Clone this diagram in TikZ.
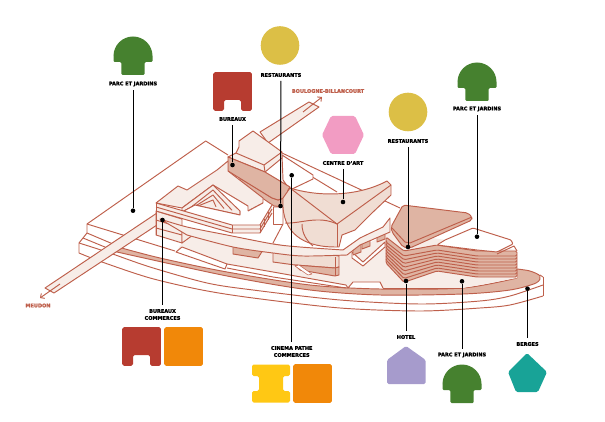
\documentclass[tikz,border=0pt]{standalone}
\usepackage{fontspec}
\setmainfont{DejaVu Sans}[BoldFeatures={FakeBold=2.2}]
\usetikzlibrary{arrows.meta}
\definecolor{brick}{HTML}{BE5F4B}
\definecolor{palefill}{HTML}{F7EDE8}
\definecolor{midfill}{HTML}{F0DDD3}
\definecolor{darkfill}{HTML}{DFB4A3}
\definecolor{leaf}{HTML}{46812F}
\definecolor{office}{HTML}{B73C30}
\definecolor{shop}{HTML}{F18809}
\definecolor{cinema}{HTML}{FFC814}
\definecolor{gold}{HTML}{DCBF46}
\definecolor{pinkart}{HTML}{F29CC3}
\definecolor{lilac}{HTML}{A69BCC}
\definecolor{teal}{HTML}{18A397}
\tikzset{
  edge/.style={draw=brick, line width=0.95pt, line join=round},
  pale/.style={edge, fill=palefill},
  mid/.style={edge, fill=midfill},
  dark/.style={edge, fill=darkfill},
  blank/.style={edge, fill=white},
  road/.style={draw=brick, line width=0.95pt, -{Straight Barb[length=3pt,width=6pt]}},
  leader/.style={draw=black, line width=1pt},
  dot/.style={circle, fill=black, inner sep=0pt, minimum size=4.6pt},
  tag/.style={font=\bfseries\fontsize{5}{7}\selectfont, align=center, inner sep=0pt, outer ysep=4pt},
  place/.style={tag, text=brick},
  parc/.pic={
    \fill[leaf] (-19.5,0) arc[start angle=180,end angle=360,radius=19.5] -- cycle;
    \fill[leaf, rounded corners=1.2] (-19.5,-1) -- (19.5,-1) -- (19.5,6) -- (11.7,6) -- (11.7,19) -- (-11.7,19) -- (-11.7,6) -- (-19.5,6) -- cycle;},
  bureau/.pic={\fill[office, rounded corners=1.6] (-19.3,-19.3) -- (19.3,-19.3) -- (19.3,19.3) -- (8.5,19.3) -- (8.5,8.5) -- (-8.5,8.5) -- (-8.5,19.3) -- (-19.3,19.3) -- cycle;},
  commerce/.pic={\fill[shop, rounded corners=1.6] (-19.3,-19.3) rectangle (19.3,19.3);},
  resto/.pic={\fill[gold] (0,0) circle[radius=19.3];}
}
\begin{document}
\begin{tikzpicture}[x=1pt,y=-1pt]
  \useasboundingbox (0,0) rectangle (605,422);
  % platform
  \draw[edge] plot[smooth] coordinates {(79,253) (102,262) (150,278) (202,290) (253,298) (340,308) (420,311) (480,308) (510,305) (543,296)};
  \draw[edge] plot[smooth] coordinates {(79,243) (107,252) (150,267) (207,283) (253,290) (340,300) (420,304) (480,301) (510,296) (543,285)};
  \draw[edge] (87,233) -- (83,238) -- (79,243) -- (79,253);
  \draw[edge] (543,277) -- (543,296);
  \draw[edge] (87,233) -- (87,224) -- (205.7,141) -- (228,155);
  \draw[edge] (87,224) -- (175,251);
  \draw[edge] (87,233) -- (120,247);
  \draw[edge] (83,238) -- (117,252);
  \draw[edge] (540,275) -- (543,277);
  % band and bank
  \draw[dark] plot[smooth] coordinates {(118,247) (160,258) (227,272) (310,285) (380,289) (463,288) (517,278)} -- plot[smooth] coordinates {(517,269) (530,271) (540,276) (536,283) (510,290) (463,294) (380,295) (310,290) (227,276) (117,252)} -- cycle;
  % floor
  \fill[palefill] (176,252) -- (187,235) -- (233,247) -- (273,253) -- (347,255) -- (390,232) -- (517,250) -- (517,278) -- (463,288) -- (383,288) -- (380,282) -- (353,282) -- (348,288) -- (346,285) -- (273,272) -- (227,264) -- cycle;
  \draw[edge] (227,264) -- (273,272) -- (346,285) -- (348,288) -- (353,282) -- (380,282) -- (383,288);
  \draw[edge] (227,268) -- (273,277) -- (346,288);
  \draw[edge] (383,288) -- (463,288);
  % back plate
  \draw[edge] (282,153) -- (400,208);
  \draw[edge] (283,159) -- (337,192);
  \draw[blank] (282,155) -- (313,175) -- (313,179) -- (290,190) -- (283,180) -- cycle;
  % road to the north
  \draw[pale] (260,132) -- (309,102) -- (319,107) -- (268,143) -- cycle;
  \draw[road] (303,112) -- (322,97);
  % bureaux block
  \draw[pale] (228,157) -- (236,153) -- (239,147) -- (239,141) -- (253,131) -- (282,152) -- (282,158) -- (265,172) -- cycle;
  \draw[edge] (236,153) -- (264,165) -- (282,152);
  \draw[edge] (264,165) -- (265,172);
  \draw[dark] (240,178) -- (272,198) -- (278,200) -- (284,198) -- (284,207) -- (274,206) -- (240,183) -- cycle;
  \draw[dark] (228,157) -- (265,172) -- (290,187) -- (288,190) -- (287,197) -- (278,200) -- (272,198) -- (228,171) -- cycle;
  % road to the south
  \draw[pale] (45,288) -- (157,213) -- (157,225) -- (54,293) -- cycle;
  \draw[road] (60,284) -- (40,298);
  % offices, lower part
  \draw[pale] (156,211) -- (182,219) -- (182,243) -- (156,235) -- cycle;
  \draw[edge] (156,220) -- (182,228);
  \draw[edge] (156,228) -- (182,235);
  \draw[pale] (182,228) -- (193,235) -- (182,243) -- cycle;
  % offices, upper part
  \draw[pale] (156,203) -- (178,186) -- (187,190) -- (217,170) -- (228,161) -- (228,171) -- (263,198) -- (263,203) -- (248,211) -- (248,206) -- (213,185) -- (182,208) -- cycle;
  \draw[pale] (213,185) -- (240,211) -- (240,215) -- (195,205) -- (182,212) -- (182,208) -- cycle;
  \foreach \dy in {5,10,15}
    \draw[edge] ({186+0.8*\dy},{209-0.2*\dy}) -- (213,{185+\dy}) -- ({240-1.6*\dy},{212-0.35*\dy});
  \fill[white] (182,212) -- (195,205) -- (240,215) -- (248,211) -- (263,203) -- (272,205) -- (260,225) -- (232,225) -- cycle;
  \draw[edge] (182,212) -- (195,205) -- (240,215) -- (240,211);
  \draw[edge] (248,211) -- (263,203);
  \fill[palefill] (156,203) -- (232,225) -- (260,225) -- (272,205) -- (272,213) -- (260,233) -- (232,233) -- (156,211) -- cycle;
  \foreach \dy in {0,4,8}
    \draw[edge] (156,{203+\dy}) -- (232,{225+\dy}) -- (260,{225+\dy}) -- (272,{205+\dy});
  \draw[edge] (156,203) -- (156,235);
  \draw[edge] (232,225) -- (232,233);
  \draw[edge] (260,225) -- (260,233);
  \foreach \sx in {264,268}
    \draw[edge] (\sx,{225-(\sx-260)*1.6}) -- (\sx,{233-(\sx-260)*1.6});
  % white column
  \draw[blank] (273,207) -- (283,207) -- (283,224) -- (273,243);
  \draw[edge] (273,207) -- (273,224) -- (283,224);
  % bench and small box
  \draw[blank] (182,247) -- (227,264) -- (225,269) -- (176,252) -- cycle;
  \draw[dark] (233,245) -- (263,250) -- (258,258) -- (233,254) -- cycle;
  % under the deck, east
  \draw[blank] (352,252) -- (363,262) -- (385,242) -- (385,247) -- (363,266) -- (352,258) -- cycle;
  \foreach \px/\py in {353/248,362/242,377/235}
    \draw[dark] (\px,\py) -- (\px+8,\py-4) -- (\px+8,\py+4) -- (\px,\py+7) -- cycle;
  % cinema block
  \draw[mid] (273,244) -- (273,262) -- (295,265) -- (335,268) -- (339,267) -- (339,256) -- cycle;
  \draw[dark] (295,265) -- (335,268) -- (339,267) -- (339,275) -- (335,276) -- (300,270) -- cycle;
  \draw[edge] (335,257) -- (335,276);
  \draw[blank, line width=0.5pt] (295,266) -- (299,265) -- (312,274) -- (308,275) -- cycle;
  % deck
  \draw[pale] plot[smooth] coordinates {(160,219) (187,227) (227,235) (273,244) (300,247) (343,250)} -- (360,238) -- (383,227) -- (390,218) -- (390,232) -- (360,245) -- plot[smooth] coordinates {(347,255) (303,256) (273,253) (233,247) (187,235)} -- cycle;
  % centre d'art
  \draw[mid] (290,188) .. controls (315,196) and (355,198) .. (387,181) -- (391,185) -- (391,195) -- (372,213) -- (355,230) -- (342,235) -- (339,247) -- (335,247) .. controls (310,247) and (285,238) .. (283,207) -- (283,198) -- cycle;
  \draw[edge] (290,188) -- (337,224) -- (391,185);
  \draw[edge] (337,224) -- (337,247);
  \draw[edge] (285,223) .. controls (300,224) and (318,215) .. (337,224);
  \draw[edge] (302,224) .. controls (302,234) and (307,241) .. (313,246);
  % hotel
  \foreach \dy in {21,18,15,12,9,6,3,0}
    \draw[dark, rounded corners=1.5] (386,{237+\dy}) -- (404,{251+1.25*\dy}) -- (437,{245+\dy}) -- (477,{251+\dy}) -- (517,{251+\dy}) -- (517,{256+\dy}) -- (477,{256+\dy}) -- (437,{250+\dy}) -- (404,{256+1.25*\dy}) -- (386,{242+\dy}) -- cycle;
  \draw[blank, rounded corners=1] (445,240) -- (473,228) -- (511,240) -- (513,244) -- (497,252) -- (477,250) -- (437,245) -- cycle;
  \draw[edge] (497,254) -- (514,246) -- (517,251);
  \draw[dark, rounded corners=2] (403,205) -- (468,213) -- (472,217) -- (472,220) -- (410,248) -- (403,247) -- (392,232) -- (391,227) -- cycle;
  \draw[edge] (392,228) -- (405,242) -- (410,243) -- (472,217);
  % pictos
  \pic at (133,56) {parc};
  \pic at (477,82) {parc};
  \pic at (462,384) {parc};
  \pic at (232.5,91.5) {bureau};
  \pic at (141.5,346.5) {bureau};
  \pic at (183.5,346.5) {commerce};
  \pic at (312.5,383.5) {commerce};
  \pic at (280,45.5) {resto};
  \pic at (408,112) {resto};
  \fill[cinema, rounded corners=1.6] (252,364.5) -- (290,364.5) -- (290,376) -- (283,376) -- (283,391) -- (290,391) -- (290,402.5) -- (252,402.5) -- (252,391) -- (259,391) -- (259,376) -- (252,376) -- cycle;
  \fill[pinkart, rounded corners=1.6] (322,135) -- (331,116) -- (355,116) -- (364,135) -- (355,154) -- (331,154) -- cycle;
  \fill[lilac, rounded corners=1.6] (406,346) -- (425.7,360) -- (425.7,384) -- (387,384) -- (387,360) -- cycle;
  \fill[teal, rounded corners=1.6] (527,353) -- (547,372) -- (538,392) -- (516,392) -- (508,372) -- cycle;
  % labels
  \node[tag] (parcA) at (133,84) {PARC ET JARDINS};
  \node[tag] (restoA) at (281,75) {RESTAURANTS};
  \node[tag] (bureauA) at (232.5,119) {BUREAUX};
  \node[tag] (art) at (343,163) {CENTRE D'ART};
  \node[tag] (restoB) at (408,141) {RESTAURANTS};
  \node[tag] (parcB) at (477,109) {PARC ET JARDINS};
  \node[tag] (bureauB) at (162.5,314.5) {BUREAUX\\COMMERCES};
  \node[tag] (pathe) at (291.7,351.5) {CINEMA PATHE\\COMMERCES};
  \node[tag] (hotel) at (406,337) {HOTEL};
  \node[tag] (parcC) at (462,355) {PARC ET JARDINS};
  \node[tag] (berges) at (527.5,344) {BERGES};
  \node[place] (boulogne) at (328,91) {BOULOGNE-BILLANCOURT};
  \node[place] (meudon) at (38,305.5) {MEUDON};
  % dots
  \node[dot] (parcAdot) at (133,210.7) {};
  \node[dot] (restoAdot) at (280.5,206) {};
  \node[dot] (bureauAdot) at (232.5,165) {};
  \node[dot] (artdot) at (343,202) {};
  \node[dot] (restoBdot) at (408,247) {};
  \node[dot] (parcBdot) at (477,236.7) {};
  \node[dot] (bureauBdot) at (162.5,220) {};
  \node[dot] (pathedot) at (291.7,175.3) {};
  \node[dot] (hoteldot) at (406,281) {};
  \node[dot] (parcCdot) at (462,281.3) {};
  \node[dot] (bergesdot) at (527.5,288.7) {};
  % leaders
  \foreach \tagname in {parcA,restoA,bureauA,art,restoB,parcB,bureauB,pathe,hotel,parcC,berges}
    \draw[leader] (\tagname) -- (\tagname dot);
\end{tikzpicture}
\end{document}
